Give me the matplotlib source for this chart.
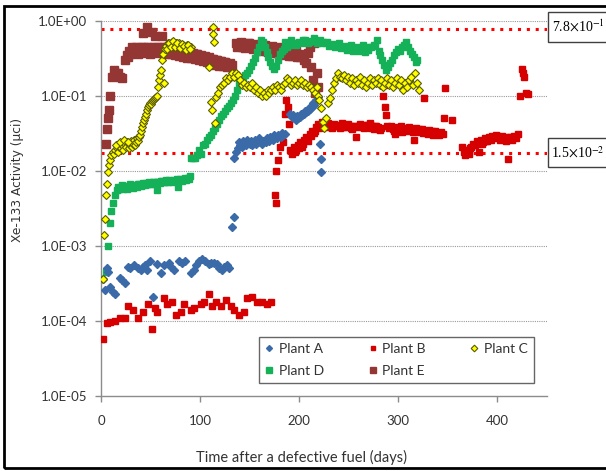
import matplotlib
matplotlib.use("Agg")
import matplotlib.pyplot as plt
from matplotlib.lines import Line2D
from matplotlib.patches import Rectangle

# ---------------- data ----------------
plant_a_days = [2, 4, 6, 7, 9, 12, 14, 19, 21, 24, 27, 29, 33, 37, 40, 42, 44, 46, 49, 52,
                57, 61, 64, 69, 71, 74, 79, 82, 85, 91, 94, 96, 99, 102, 105, 109, 111, 114,
                117, 119, 122, 124, 127, 129,
                132, 134,
                134, 136, 138, 140, 142, 144, 146, 148, 150, 152, 154, 156, 158, 160, 162,
                164, 166, 168, 170, 172, 174, 176, 178, 180, 182, 184, 186,
                191, 193, 195, 197, 199, 201, 203, 205, 207, 209, 211, 213, 215, 217, 219,
                221, 221.5, 222,
                139, 143, 147, 151, 155, 159, 163, 167, 171, 175, 179, 183, 194, 198, 202,
                206, 210, 214]
plant_a_vals = [0.00036, 0.00026, 0.0005, 0.00045, 0.00028, 0.00024, 0.00023, 0.00037, 0.00035,
                0.00032, 0.00052, 0.0005, 0.00055, 0.0005, 0.00048, 0.00053, 0.00056, 0.00047,
                0.00063, 0.00021, 0.00058, 0.00043, 0.00055, 0.0006, 0.00052, 0.00047, 0.00062,
                0.0006, 0.00063, 0.00043, 0.00047, 0.00055, 0.00063, 0.00067, 0.00062, 0.00058,
                0.0006, 0.0006, 0.00057, 0.0005, 0.00048, 0.00053, 0.00055, 0.0005,
                0.0018, 0.0024,
                0.0147, 0.0176, 0.020, 0.022, 0.021, 0.023, 0.022, 0.024, 0.023, 0.022, 0.024,
                0.023, 0.025, 0.024, 0.023, 0.025, 0.024, 0.026, 0.025, 0.027, 0.026, 0.028,
                0.027, 0.029, 0.028, 0.030, 0.031,
                0.058, 0.052, 0.050, 0.048, 0.050, 0.052, 0.055, 0.057, 0.060, 0.063, 0.066,
                0.070, 0.075, 0.087, 0.096,
                0.023, 0.0145, 0.0095,
                0.024, 0.025, 0.026, 0.025, 0.026, 0.027, 0.025, 0.027, 0.028, 0.030, 0.030,
                0.032, 0.055, 0.054, 0.058, 0.062, 0.068, 0.080]

plant_b_days = [2, 6, 9, 14, 19, 24, 27, 32, 37, 42, 47, 51, 54, 57, 64, 67, 72, 76, 81, 84,
                91, 94, 101, 104, 109, 112, 116, 121, 126, 131, 134, 139, 144, 147, 152, 157,
                162, 167, 172,
                176, 176.5, 177, 179, 181, 184, 186, 187, 189, 190, 191, 193, 195, 197, 199,
                201, 203, 205, 207, 209, 211, 213, 215, 217, 219, 221, 223, 225, 227, 229, 231,
                233, 235, 237, 239, 241, 243, 245, 247, 249, 251, 253, 255, 257, 259, 261, 263,
                265, 267, 269, 271, 273, 275, 277, 279, 281, 283, 285, 286, 287, 288, 289, 291,
                293, 295, 297, 299, 301, 303, 305, 307, 309, 311, 313, 315, 316, 318, 320, 322,
                324, 326, 327, 329, 331, 333, 335, 337, 339, 341, 343, 345, 346, 347, 354,
                364, 366, 367, 369, 371, 373, 375, 377, 379, 381, 383, 385, 387, 389, 391, 393,
                395, 397, 399, 401, 403, 405, 407, 409, 411, 413, 415, 417, 419, 421, 423, 425,
                426, 427, 429, 431,
                196, 200, 204, 208, 212, 216, 220, 224, 228, 232, 236, 240, 244, 248, 252, 256,
                260, 264, 268, 272, 276, 280, 292, 296, 300, 304, 308, 312, 317, 321, 325, 330,
                334, 338, 342, 368, 372, 376, 380, 384, 388, 392, 396, 400, 404, 408, 414, 418]
plant_b_vals = [0.000057, 0.000094, 0.000097, 0.0001, 0.00011, 0.00011, 0.00016, 0.00014,
                0.00011, 0.00013, 0.00017, 0.000078, 0.00015, 0.00013, 0.0002, 0.00017, 0.00018,
                0.00012, 0.00013, 0.00017, 0.00014, 0.00015, 0.00017, 0.00018, 0.00023, 0.00016,
                0.00018, 0.00016, 0.00019, 0.00016, 0.00014, 0.00012, 0.00013, 0.0002, 0.00021,
                0.00018, 0.00018, 0.00017, 0.00018,
                0.0047, 0.0037, 0.010, 0.014, 0.021, 0.024, 0.058, 0.087, 0.070, 0.042, 0.019,
                0.017, 0.021, 0.019, 0.022, 0.024, 0.021, 0.026, 0.028, 0.025, 0.031, 0.034,
                0.032, 0.038, 0.042, 0.040, 0.045, 0.041, 0.038, 0.043, 0.040, 0.037, 0.042,
                0.039, 0.041, 0.037, 0.043, 0.040, 0.038, 0.042, 0.039, 0.036, 0.040, 0.028,
                0.038, 0.042, 0.040, 0.037, 0.041, 0.038, 0.043, 0.039, 0.036, 0.040, 0.038,
                0.035, 0.037, 0.10, 0.138, 0.070, 0.055, 0.040, 0.037, 0.039, 0.036, 0.031,
                0.038, 0.036, 0.039, 0.035, 0.037, 0.034, 0.038, 0.036, 0.033, 0.026, 0.037,
                0.035, 0.033, 0.036, 0.093, 0.034, 0.032, 0.035, 0.033, 0.030, 0.034, 0.032,
                0.030, 0.033, 0.031, 0.050, 0.125, 0.047,
                0.021, 0.018, 0.016, 0.019, 0.017, 0.021, 0.023, 0.022, 0.025, 0.018, 0.026,
                0.024, 0.027, 0.025, 0.028, 0.026, 0.029, 0.027, 0.030, 0.028, 0.026, 0.029,
                0.027, 0.025, 0.0145, 0.028, 0.026, 0.029, 0.027, 0.031, 0.10, 0.23, 0.20,
                0.18, 0.11, 0.105,
                0.018, 0.020, 0.023, 0.026, 0.029, 0.034, 0.037, 0.039, 0.041, 0.038, 0.040,
                0.039, 0.038, 0.040, 0.037, 0.039, 0.040, 0.038, 0.041, 0.037, 0.039, 0.036,
                0.038, 0.034, 0.037, 0.033, 0.036, 0.035, 0.034, 0.036, 0.032, 0.031, 0.034,
                0.031, 0.032, 0.019, 0.020, 0.022, 0.024, 0.023, 0.025, 0.027, 0.028, 0.029,
                0.027, 0.028, 0.028, 0.028]

plant_c_days = [2, 3, 4, 5, 6, 7, 8, 9, 10, 12, 13, 14, 16, 17, 18, 20, 21, 22, 24, 25, 26,
                28, 29, 30, 31, 32, 33, 34, 35, 36, 37, 38, 39, 40, 41, 42, 43, 44, 45, 46, 47,
                48, 49, 50, 51, 52, 53, 54, 55, 56, 58, 59, 60, 61, 62, 63, 65, 66, 68, 70, 72,
                74, 76, 78, 79, 81, 83, 85, 87, 89, 91,
                109, 111, 112, 112.5, 113, 114, 115, 116, 118, 120, 122, 124, 126, 128, 130,
                132, 134, 136, 138, 140, 142, 144, 146, 148, 150, 152, 154, 156, 158, 160, 162,
                164, 166, 168, 170, 172, 174, 176, 178, 180, 182, 184, 186, 188, 190, 192, 194,
                196, 198, 200, 202, 204, 206, 208, 210, 212, 214, 216, 218, 219, 220, 222, 224,
                225, 227, 229, 231, 233, 235, 237, 239, 241, 243, 245, 247, 249, 251, 253, 255,
                257, 259, 261, 263, 265, 267, 269, 271, 273, 275, 277, 279, 281, 283, 285, 287,
                289, 291, 293, 295, 297, 299, 301, 303, 305, 307, 309, 311, 313, 315, 317, 319,
                321,
                15, 19, 23, 27, 64, 67, 69, 71, 73, 75, 77, 80, 82, 84, 86, 88, 90]
plant_c_vals = [0.00036, 0.0014, 0.0023, 0.0047, 0.0067, 0.0095, 0.012, 0.014, 0.016, 0.018,
                0.017, 0.019, 0.020, 0.018, 0.021, 0.020, 0.022, 0.019, 0.023, 0.021, 0.024,
                0.020, 0.022, 0.025, 0.021, 0.023, 0.026, 0.022, 0.024, 0.027, 0.025, 0.028,
                0.030, 0.034, 0.038, 0.043, 0.047, 0.052, 0.058, 0.065, 0.070, 0.075, 0.080,
                0.078, 0.085, 0.088, 0.090, 0.093, 0.096, 0.10, 0.13, 0.16, 0.19, 0.22, 0.30,
                0.36, 0.42, 0.46, 0.50, 0.47, 0.52, 0.48, 0.50, 0.46, 0.50, 0.45, 0.48, 0.44,
                0.47, 0.43, 0.45,
                0.24, 0.082, 0.064, 0.83, 0.66, 0.52, 0.044, 0.096, 0.11, 0.13, 0.14, 0.15,
                0.17, 0.16, 0.18, 0.20, 0.18, 0.20, 0.19, 0.16, 0.14, 0.15, 0.13, 0.14, 0.13,
                0.15, 0.12, 0.13, 0.11, 0.12, 0.10, 0.11, 0.10, 0.12, 0.11, 0.12, 0.13, 0.12,
                0.14, 0.13, 0.12, 0.14, 0.15, 0.17, 0.16, 0.14, 0.15, 0.16, 0.14, 0.15, 0.16,
                0.14, 0.15, 0.13, 0.14, 0.13, 0.12, 0.11, 0.13, 0.10, 0.087, 0.068, 0.045,
                0.037, 0.050, 0.080, 0.093, 0.12, 0.15, 0.17, 0.20, 0.18, 0.17, 0.19, 0.16,
                0.18, 0.15, 0.17, 0.14, 0.16, 0.15, 0.18, 0.14, 0.16, 0.13, 0.15, 0.17, 0.14,
                0.16, 0.15, 0.17, 0.14, 0.16, 0.13, 0.15, 0.17, 0.14, 0.16, 0.13, 0.15, 0.17,
                0.14, 0.16, 0.12, 0.15, 0.13, 0.16, 0.18, 0.14, 0.20, 0.15, 0.12,
                0.022, 0.024, 0.026, 0.024, 0.15, 0.42, 0.50, 0.44, 0.53, 0.45, 0.51, 0.43,
                0.49, 0.46, 0.41, 0.48, 0.42]

plant_d_days = [5, 7, 9, 10, 12, 14, 16, 18, 20, 22, 24, 26, 28, 30, 32, 34, 36, 38, 40, 42,
                44, 46, 48, 50, 52, 54, 56, 58, 60, 62, 64, 66, 68, 70, 72, 74, 76, 78, 80, 82,
                84, 86, 88, 90,
                91, 93, 95, 97, 99, 101, 103, 105, 107, 109, 111, 113, 115, 117, 119, 121, 123,
                125, 127, 129, 131, 133, 135, 137, 139, 141, 143, 145, 147, 149, 151, 153, 155,
                157, 159, 161, 163, 165, 167, 169, 171, 173, 175, 177, 179, 181, 183, 185, 188,
                191, 194, 197, 200, 203, 206, 209, 212, 215, 218, 221, 224, 227, 230, 233, 236,
                239, 242, 245, 248, 251, 254, 257, 260, 263, 266, 269, 272, 275, 278, 280, 282,
                284, 286, 288, 290, 292, 294, 296, 298, 300, 302, 304, 306, 308, 310, 312, 314,
                316, 318, 319,
                17, 21, 25, 29, 33, 37, 41, 45, 49, 53, 57, 61, 65, 69, 73, 77, 81, 85, 89,
                186, 192, 198, 204, 210, 216, 222, 228, 234, 240, 246, 252, 258, 264, 270, 276]
plant_d_vals = [0.00045, 0.001, 0.002, 0.0029, 0.0037, 0.0047, 0.0055, 0.0058, 0.006, 0.0057,
                0.0062, 0.0058, 0.006, 0.0063, 0.0059, 0.0064, 0.006, 0.0066, 0.0062, 0.0068,
                0.0064, 0.0066, 0.007, 0.0066, 0.0071, 0.0068, 0.0055, 0.0072, 0.0069, 0.0073,
                0.007, 0.0075, 0.0071, 0.0074, 0.0072, 0.0076, 0.0073, 0.006, 0.0077, 0.0074,
                0.0079, 0.0076, 0.008, 0.0085,
                0.0146, 0.015, 0.0148, 0.016, 0.019, 0.017, 0.022, 0.023, 0.026, 0.028, 0.030,
                0.034, 0.037, 0.042, 0.048, 0.053, 0.058, 0.063, 0.068, 0.074, 0.080, 0.087,
                0.10, 0.12, 0.15, 0.16, 0.17, 0.19, 0.20, 0.22, 0.25, 0.28, 0.32, 0.38, 0.45,
                0.55, 0.52, 0.45, 0.38, 0.33, 0.28, 0.25, 0.23, 0.25, 0.30, 0.36, 0.40, 0.42,
                0.45, 0.47, 0.50, 0.48, 0.52, 0.50, 0.55, 0.50, 0.53, 0.58, 0.50, 0.55, 0.52,
                0.50, 0.46, 0.49, 0.44, 0.47, 0.43, 0.45, 0.41, 0.44, 0.40, 0.43, 0.39, 0.42,
                0.38, 0.41, 0.45, 0.48, 0.55, 0.40, 0.35, 0.30, 0.26, 0.22, 0.24, 0.27, 0.30,
                0.35, 0.38, 0.42, 0.40, 0.45, 0.48, 0.52, 0.45, 0.40, 0.36, 0.33, 0.28, 0.30,
                0.0061, 0.0064, 0.0059, 0.0066, 0.0062, 0.0067, 0.0065, 0.0069, 0.0067, 0.0072,
                0.0070, 0.0074, 0.0071, 0.0076, 0.0074, 0.0078, 0.0075, 0.0081, 0.0078,
                0.52, 0.55, 0.50, 0.56, 0.52, 0.54, 0.50, 0.52, 0.48, 0.50, 0.46, 0.48, 0.45,
                0.47, 0.44, 0.46]

plant_e_days = [5, 6, 7, 8, 9, 11, 13, 15, 17, 19, 21, 24, 26, 28, 30, 32, 34, 36, 38, 40, 42,
                44, 46, 48, 50, 51, 53, 54, 56, 58, 60, 62, 64, 66, 68, 70, 72, 74, 76, 78, 80,
                82, 84, 86, 88, 90, 92, 94, 96, 98, 100, 102, 104, 106, 108, 110, 112, 114, 116,
                118, 120, 122, 124, 126, 128, 130, 132,
                136, 138, 140, 142, 144, 146, 148, 150, 152, 154, 156, 158, 160, 162, 164, 166,
                168, 170, 172, 174, 176, 178, 180, 182, 184, 186, 188, 190, 192, 195, 198, 200,
                203, 205, 207, 209, 211, 212, 214, 215, 216, 218, 219,
                27, 29, 31, 33, 35, 37, 39, 41, 43, 45, 47, 49, 52, 55, 57, 59, 61, 63, 65, 67,
                69, 71, 73, 75, 77, 79, 81, 83, 85, 87, 89, 91, 93, 95, 97, 99, 101, 103, 105,
                107, 109, 111, 113, 115, 117, 119, 121, 123, 125, 127, 129, 131,
                137, 141, 145, 149, 153, 157, 161, 165, 169, 173, 177, 181, 185, 189, 193, 197,
                201]
plant_e_vals = [0.023, 0.036, 0.05, 0.064, 0.10, 0.18, 0.22, 0.20, 0.20, 0.18, 0.17, 0.30,
                0.35, 0.40, 0.38, 0.42, 0.40, 0.38, 0.42, 0.44, 0.68, 0.40, 0.82, 0.41, 0.38,
                0.70, 0.42, 0.62, 0.40, 0.43, 0.41, 0.62, 0.44, 0.40, 0.42, 0.39, 0.43, 0.40,
                0.38, 0.41, 0.37, 0.39, 0.36, 0.38, 0.34, 0.37, 0.35, 0.33, 0.36, 0.32, 0.34,
                0.31, 0.33, 0.30, 0.32, 0.29, 0.31, 0.28, 0.30, 0.27, 0.29, 0.26, 0.28, 0.27,
                0.25, 0.27, 0.26,
                0.50, 0.47, 0.50, 0.45, 0.48, 0.46, 0.50, 0.44, 0.47, 0.43, 0.46, 0.42, 0.45,
                0.41, 0.44, 0.40, 0.43, 0.39, 0.42, 0.38, 0.41, 0.37, 0.40, 0.36, 0.38, 0.35,
                0.37, 0.34, 0.36, 0.35, 0.33, 0.36, 0.34, 0.30, 0.27, 0.37, 0.45, 0.24, 0.16,
                0.50, 0.11, 0.20, 0.13,
                0.33, 0.36, 0.45, 0.37, 0.44, 0.36, 0.40, 0.37, 0.45, 0.38, 0.44, 0.36, 0.45,
                0.37, 0.45, 0.38, 0.44, 0.37, 0.43, 0.36, 0.42, 0.36, 0.41, 0.35, 0.40, 0.34,
                0.40, 0.33, 0.39, 0.32, 0.38, 0.32, 0.37, 0.31, 0.36, 0.30, 0.35, 0.29, 0.34,
                0.28, 0.33, 0.27, 0.31, 0.26, 0.30, 0.25, 0.29, 0.25, 0.28, 0.24, 0.26, 0.24,
                0.44, 0.52, 0.43, 0.51, 0.42, 0.49, 0.40, 0.48, 0.38, 0.46, 0.37, 0.44, 0.36,
                0.42, 0.34, 0.40, 0.33]

series_labels = ["Plant A", "Plant B", "Plant C", "Plant D", "Plant E"]
limit_high = 0.78
limit_low = 0.0175
limit_high_text = r"7.8$\times$10$^{-1}$"
limit_low_text = r"1.5$\times$10$^{-2}$"
y_tick_vals = [1e-5, 1e-4, 1e-3, 1e-2, 1e-1, 1e0]
y_tick_labels = ["1.0E-05", "1.0E-04", "1.0E-03", "1.0E-02", "1.0E-01", "1.0E+00"]
x_tick_vals = [0, 100, 200, 300, 400]

# ---------------- figure ----------------
plt.rcParams['mathtext.fontset'] = 'stix'
W, H = 606, 471
fig = plt.figure(figsize=(W / 100, H / 100), dpi=100)
ax = fig.add_axes([101 / W, 1 - 396 / H, (547 - 101) / W, (396 - 20.7) / H])

ax.set_yscale('log')
ax.set_ylim(1e-5, 1)
ax.set_xlim(0, 450)

for yv in y_tick_vals[1:]:
    ax.axhline(yv, color='#9a9a9a', lw=0.8, ls=(0, (1, 1)), zorder=1)

ax.axhline(limit_high, color='#ff0000', lw=2.2, ls=(0, (1, 1.9)), zorder=2)
ax.axhline(limit_low, color='#ff0000', lw=2.2, ls=(0, (1, 1.9)), zorder=2)

hE, = ax.plot(plant_e_days, plant_e_vals, 's', ms=5.6, color='#943634', mec='#943634',
              ls='none', zorder=3)
hD, = ax.plot(plant_d_days, plant_d_vals, 's', ms=5.0, color='#14b159', mec='#14b159',
              ls='none', zorder=4)
hB, = ax.plot(plant_b_days, plant_b_vals, 's', ms=4.3, color='#d60000', mec='#d60000',
              ls='none', zorder=5)
hA, = ax.plot(plant_a_days, plant_a_vals, 'D', ms=4.0, color='#3b6aa8', mec='#3b6aa8',
              ls='none', zorder=6)
hC, = ax.plot(plant_c_days, plant_c_vals, 'D', ms=4.5, color='#ffff00', mec='#5a5a00',
              mew=0.8, ls='none', zorder=7)

ax.set_yticks(y_tick_vals)
ax.set_yticklabels(y_tick_labels)
ax.yaxis.set_minor_locator(matplotlib.ticker.NullLocator())
ax.set_xticks(x_tick_vals)
ax.set_xticklabels([str(v) for v in x_tick_vals])

for s in ['top', 'right']:
    ax.spines[s].set_visible(False)
for s in ['left', 'bottom']:
    ax.spines[s].set_color('#8c8c8c')
    ax.spines[s].set_linewidth(1.0)
ax.tick_params(axis='both', colors='#8c8c8c', length=4, width=1, direction='out',
               labelcolor='#333333', labelsize=9.5)
for lab in ax.get_xticklabels() + ax.get_yticklabels():
    lab.set_fontfamily('Lato')
ax.tick_params(axis='y', pad=6)
ax.tick_params(axis='x', pad=10)

ax.set_ylabel("Xe-133 Activity (\u03bcci)", fontsize=8.8, family='DejaVu Sans',
              color='#333333')
ax.yaxis.set_label_coords(-0.172, 0.575)
ax.set_xlabel("Time after a defective fuel (days)", fontsize=10.5, family='Lato',
              color='#333333')
ax.xaxis.set_label_coords((302 - 101) / 446, -0.145)

# legend (row-major ordering)
handles = [hA, hD, hB, hE, hC]
labels = [series_labels[0], series_labels[3], series_labels[1], series_labels[4],
          series_labels[2]]
leg_handles = []
for h in handles:
    leg_handles.append(Line2D([], [], marker=h.get_marker(), ls='none',
                              ms=h.get_markersize() * 0.75, mfc=h.get_mfc(),
                              mec=h.get_mec(), mew=h.get_mew()))
leg = fig.legend(leg_handles, labels, ncol=3, loc='center',
                 bbox_to_anchor=(396.5 / W, 1 - 360 / H), frameon=True, fancybox=False,
                 edgecolor='#404040', prop={'family': 'Lato', 'size': 10},
                 handlelength=0.6, handletextpad=0.4, columnspacing=3.2,
                 labelspacing=0.75, borderpad=0.45)
leg.get_frame().set_linewidth(1.0)
for t in leg.get_texts():
    t.set_color('#333333')

# annotation boxes for the limits
for (ytop, ybot, txt) in [(12, 42, limit_high_text), (138, 167, limit_low_text)]:
    fig.patches.append(Rectangle((548 / W, 1 - ybot / H), 70 / W, (ybot - ytop) / H,
                                 transform=fig.transFigure, fill=True, fc='white',
                                 ec='#404040', lw=1.0))
    fig.text(578 / W, 1 - (ytop + ybot) / 2 / H, txt, ha='center', va='center',
             fontsize=10, family='Liberation Serif', color='black')

# outer frame
fig.patches.append(Rectangle((4 / W, 1 - 468 / H), 610 / W, (468 - 6) / H,
                             transform=fig.transFigure, fill=False, ec='black', lw=2.0))

fig.savefig("out.png", dpi=100)
